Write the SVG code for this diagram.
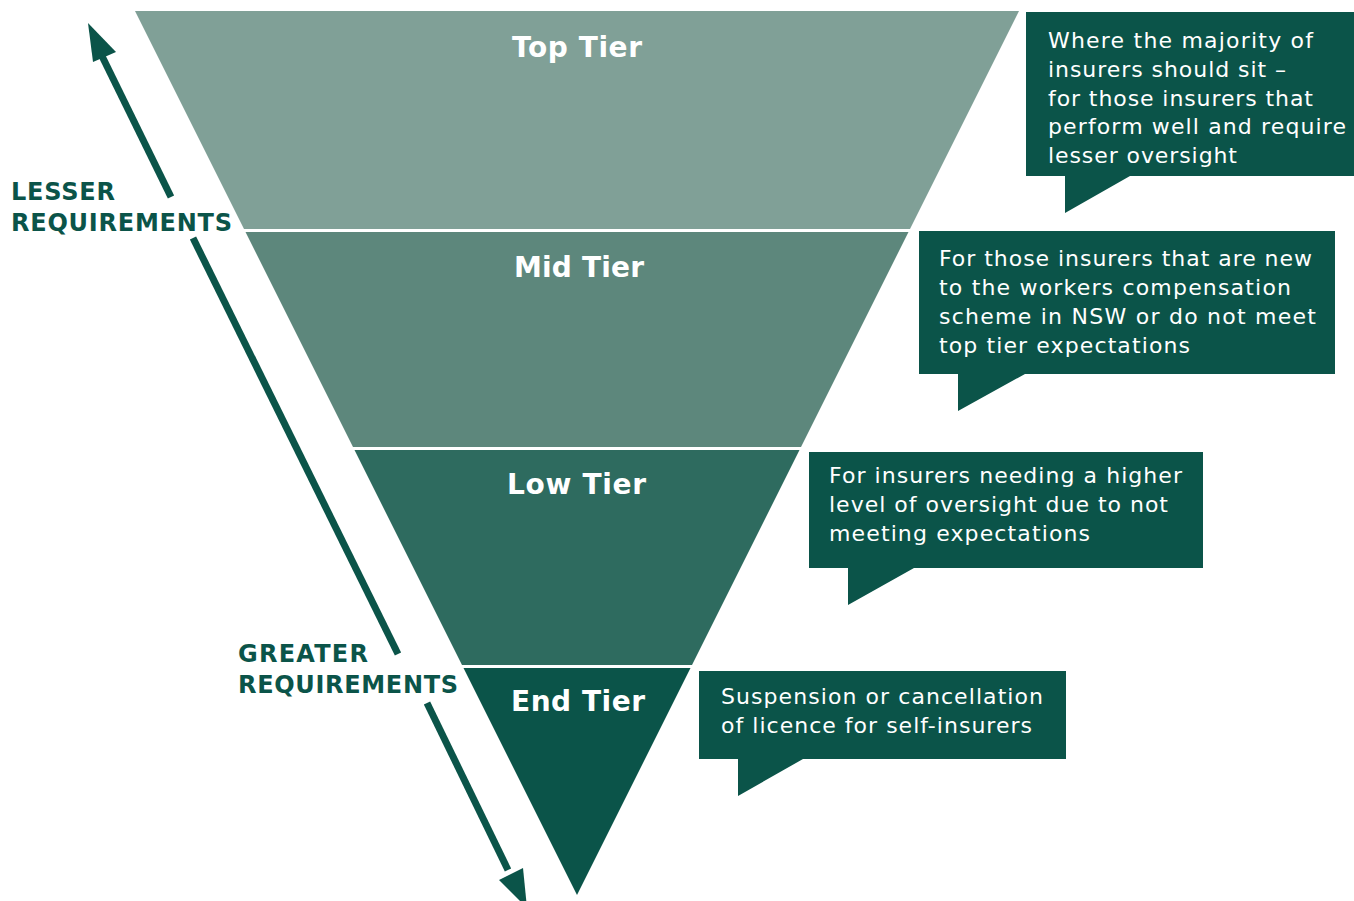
<svg xmlns="http://www.w3.org/2000/svg" width="1354" height="901" viewBox="0 0 1354 901">
<style>
.tier{font-family:"DejaVu Sans","Liberation Sans",sans-serif;font-weight:bold;font-size:28px;fill:#fff;text-anchor:middle}
.co{font-family:"DejaVu Sans","Liberation Sans",sans-serif;font-size:22px;fill:#fff}
.box{fill:#0b5449}
.side{font-family:"DejaVu Sans","Liberation Sans",sans-serif;font-weight:bold;font-size:24px;fill:#0b5449}
.arr{stroke:#0b5449;stroke-width:7;fill:none}
</style>
<rect width="1354" height="901" fill="#fff"/>
<g id="tier-top">
<polygon points="135,11 1019,11 910,229 244,229" fill="#80a097"/>
<text class="tier" x="577" y="57" textLength="130">Top Tier</text>
</g>
<g id="tier-mid">
<polygon points="245.5,232 908.5,232 801,447 353,447" fill="#5d877c"/>
<text class="tier" x="579" y="277" textLength="130">Mid Tier</text>
</g>
<g id="tier-low">
<polygon points="354.5,450 799.5,450 692,665 462,665" fill="#2e6b5f"/>
<text class="tier" x="576.5" y="494" textLength="139">Low Tier</text>
</g>
<g id="tier-end">
<polygon points="463.5,668 690.5,668 577,895" fill="#0b5449"/>
<text class="tier" x="578" y="711" textLength="134">End Tier</text>
</g>
<g id="callout-top">
<path class="box" d="M1026,12 H1354 V176 H1130 L1065,213 V176 H1026 Z"/>
<text class="co" x="1048" y="48" textLength="265">Where the majority of</text>
<text class="co" x="1048" y="77" textLength="238">insurers should sit –</text>
<text class="co" x="1048" y="105.5" textLength="265">for those insurers that</text>
<text class="co" x="1048" y="134" textLength="298">perform well and require</text>
<text class="co" x="1048" y="163" textLength="189">lesser oversight</text>
</g>
<g id="callout-mid">
<path class="box" d="M919,231 H1335 V374 H1025 L958,411 V374 H919 Z"/>
<text class="co" x="939" y="266" textLength="373">For those insurers that are new</text>
<text class="co" x="939" y="295" textLength="352">to the workers compensation</text>
<text class="co" x="939" y="324" textLength="377">scheme in NSW or do not meet</text>
<text class="co" x="939" y="353" textLength="251">top tier expectations</text>
</g>
<g id="callout-low">
<path class="box" d="M809,452 H1203 V568 H914 L848,605 V568 H809 Z"/>
<text class="co" x="829" y="483" textLength="353">For insurers needing a higher</text>
<text class="co" x="829" y="512" textLength="339">level of oversight due to not</text>
<text class="co" x="829" y="541" textLength="261">meeting expectations</text>
</g>
<g id="callout-end">
<path class="box" d="M699,671 H1066 V759 H803 L738,796 V759 H699 Z"/>
<text class="co" x="721" y="704" textLength="322">Suspension or cancellation</text>
<text class="co" x="721" y="733" textLength="311">of licence for self-insurers</text>
</g>
<g id="label-lesser">
<text class="side" x="11" y="200" textLength="104">LESSER</text>
<text class="side" x="11" y="231" textLength="221">REQUIREMENTS</text>
</g>
<g id="label-greater">
<text class="side" x="238" y="662" textLength="130">GREATER</text>
<text class="side" x="238" y="693" textLength="220">REQUIREMENTS</text>
</g>
<g id="connectors">
<line class="arr" x1="171" y1="197" x2="100" y2="52"/>
<polygon points="88,23 93,62 116,52" fill="#0b5449"/>
<line class="arr" x1="193" y1="238" x2="398" y2="654"/>
<line class="arr" x1="427" y1="703" x2="508" y2="870"/>
<polygon points="527,908 499,880 523,868" fill="#0b5449"/>
</g>
</svg>
